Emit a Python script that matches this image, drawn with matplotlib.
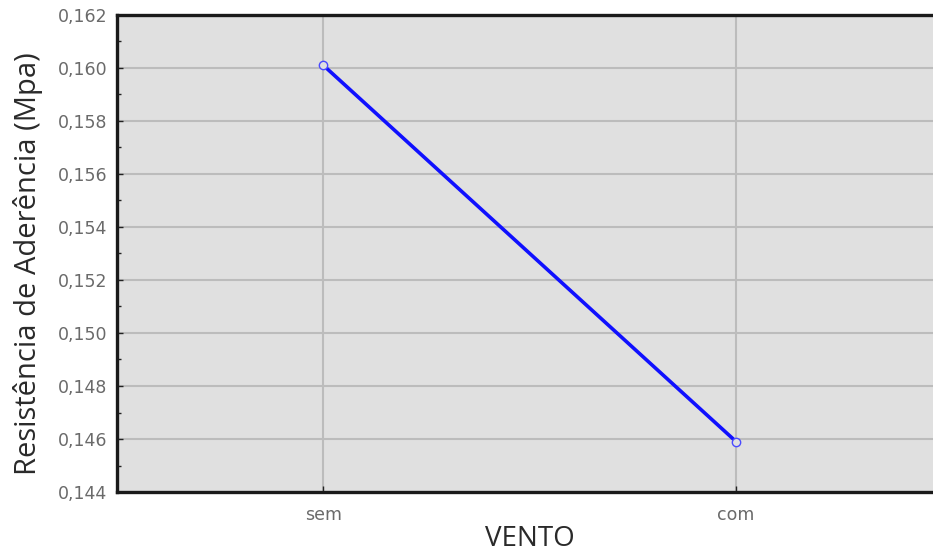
import matplotlib
matplotlib.use("Agg")
import matplotlib.pyplot as plt
from matplotlib.ticker import FuncFormatter, MultipleLocator

# Mean bond strength by wind condition
categories = ["sem", "com"]
resistencia = [0.1601, 0.1459]
y_ticks = [0.144, 0.146, 0.148, 0.150, 0.152, 0.154, 0.156, 0.158, 0.160, 0.162]

fig = plt.figure(figsize=(9.33, 5.53), dpi=100)
ax = fig.add_axes([0.1254, 0.1103, 0.8848, 0.8626])
ax.set_facecolor("#e0e0e0")

x = list(range(len(categories)))
ax.plot(x, resistencia, color="#1010ff", lw=2.6, marker="o", ms=6,
        markerfacecolor="#e0e0e0", markeredgecolor="#4a4aff", markeredgewidth=1.0,
        zorder=3)

ax.set_xlim(-0.5, 1.5)
ax.set_ylim(0.144, 0.162)
ax.set_xticks(x)
ax.set_xticklabels(categories)
ax.set_yticks(y_ticks)
ax.yaxis.set_minor_locator(MultipleLocator(0.001))
ax.yaxis.set_major_formatter(FuncFormatter(lambda v, p: f"{v:.3f}".replace(".", ",")))

ax.grid(True, which="major", color="#bcbcbc", lw=1.5)
ax.set_axisbelow(True)

for side in ["left", "bottom", "top"]:
    ax.spines[side].set_linewidth(2.4)
    ax.spines[side].set_color("#1a1a1a")
ax.spines["right"].set_visible(False)

ax.tick_params(axis="both", which="major", direction="in", length=4, width=1,
               color="#222222", labelsize=12.5, labelcolor="#6a6a6a")
ax.tick_params(axis="y", which="major", pad=7)
ax.tick_params(axis="x", which="major", pad=10)
ax.tick_params(axis="y", which="minor", direction="in", length=3, width=1, color="#222222")
for lab in ax.get_xticklabels() + ax.get_yticklabels():
    lab.set_family("DejaVu Sans")

ax.set_xlabel("VENTO", fontsize=20, family="Open Sans", color="#2a2a2a")
ax.set_ylabel("Resistência de Aderência (Mpa)", fontsize=21, family="Open Sans",
              color="#2a2a2a")
ax.xaxis.set_label_coords(0.5, -0.07)
ax.yaxis.set_label_coords(-0.0896, 0.478)

fig.savefig("out.png", dpi=100)
